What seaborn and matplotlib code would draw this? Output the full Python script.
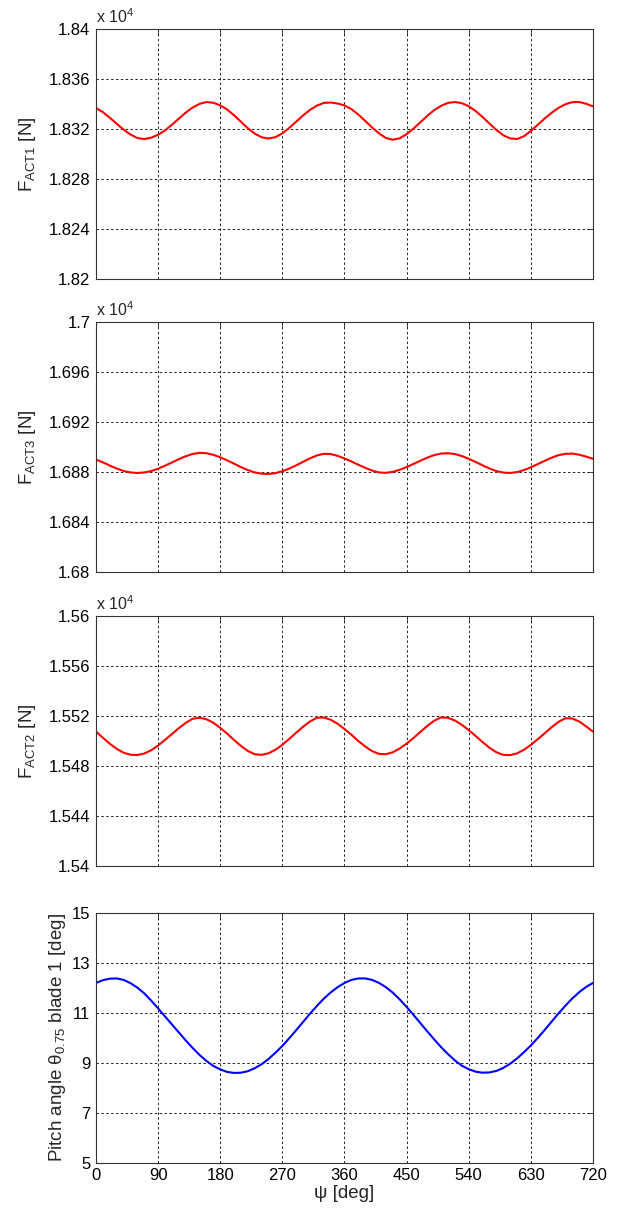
import matplotlib
matplotlib.use('Agg')
import matplotlib.pyplot as plt
import seaborn as sns
from matplotlib.ticker import FuncFormatter

# azimuth angle psi [deg], sampled every 10 deg
psi = list(range(0, 721, 10))

# actuator forces [N]
f_act1 = [18336.8, 18333.5, 18329.0, 18324.2, 18319.5, 18315.6, 18312.8, 18312.0, 18313.1, 18315.4,
          18318.9, 18323.4, 18328.3, 18333.1, 18337.2, 18340.1, 18341.6, 18341.0,
          18338.9, 18335.6, 18331.0, 18325.8, 18320.6, 18316.3, 18313.4, 18312.4, 18313.5, 18316.6,
          18320.9, 18325.9, 18330.9, 18335.3, 18338.7, 18340.9, 18341.2, 18340.4,
          18338.9, 18335.9, 18331.6, 18326.5, 18321.2, 18316.5, 18312.8, 18311.4, 18312.6, 18315.9,
          18320.4, 18325.5, 18330.6, 18335.1, 18338.6, 18340.9, 18341.6, 18340.7,
          18338.2, 18334.4, 18329.6, 18324.4, 18319.3, 18315.0, 18312.5, 18312.0, 18314.2, 18318.5,
          18323.4, 18328.4, 18333.0, 18336.9, 18339.8, 18341.5, 18341.6, 18340.2, 18338.1]

f_act3 = [16890.2, 16888.0, 16885.4, 16883.0, 16881.1, 16879.9, 16879.5, 16879.9, 16881.0, 16882.9,
          16885.3, 16887.9, 16890.5, 16892.9, 16894.7, 16895.6, 16895.3, 16894.0,
          16892.0, 16889.6, 16886.9, 16884.2, 16881.8, 16879.9, 16878.9, 16878.7, 16879.4, 16880.9,
          16883.0, 16885.6, 16888.4, 16891.2, 16893.5, 16894.8, 16894.6, 16893.2,
          16891.1, 16888.7, 16886.1, 16883.6, 16881.4, 16879.9, 16879.6, 16880.4, 16882.0, 16884.2,
          16886.7, 16889.3, 16891.8, 16893.8, 16895.0, 16895.3, 16894.6, 16893.0,
          16890.8, 16888.3, 16885.6, 16883.1, 16881.0, 16879.8, 16879.5, 16880.2, 16881.8, 16884.0,
          16886.6, 16889.2, 16891.7, 16893.7, 16894.8, 16895.0, 16894.1, 16892.6, 16890.8]

f_act2 = [15507.5, 15502.6, 15497.8, 15493.7, 15490.6, 15489.0, 15488.8, 15490.0, 15492.6, 15496.4,
          15500.9, 15505.6, 15510.3, 15514.5, 15517.8, 15518.6, 15517.4, 15514.6,
          15510.5, 15505.9, 15500.8, 15496.0, 15492.0, 15489.4, 15488.9, 15490.2, 15493.0, 15497.0,
          15501.7, 15506.6, 15511.4, 15515.6, 15518.6, 15518.8, 15517.0, 15513.8,
          15509.6, 15505.0, 15500.0, 15495.6, 15491.9, 15489.7, 15489.4, 15491.0, 15494.0, 15497.9,
          15502.4, 15507.3, 15512.1, 15516.2, 15518.9, 15518.5, 15516.4, 15512.9,
          15508.7, 15504.0, 15499.1, 15494.6, 15491.0, 15488.9, 15488.7, 15490.1, 15493.0, 15496.9,
          15501.4, 15506.2, 15511.0, 15515.3, 15518.2, 15518.0, 15515.6, 15511.7, 15507.5]

# pitch angle theta_0.75 of blade 1 [deg]
pitch = [12.19, 12.30, 12.36, 12.37, 12.31, 12.18, 12.00, 11.77, 11.48, 11.17,
         10.85, 10.53, 10.21, 9.89, 9.59, 9.31, 9.07, 8.87, 8.73, 8.63,
         8.59, 8.60, 8.66, 8.78, 8.94, 9.15, 9.40, 9.67, 9.98, 10.30,
         10.63, 10.96, 11.27, 11.56, 11.81, 12.02, 12.19,
         12.31, 12.37, 12.37, 12.31, 12.19, 12.02, 11.80, 11.53, 11.23, 10.91,
         10.58, 10.25, 9.93, 9.62, 9.34, 9.09, 8.88, 8.74, 8.64, 8.60,
         8.61, 8.67, 8.79, 8.96, 9.17, 9.42, 9.69, 9.99, 10.31, 10.64,
         10.97, 11.28, 11.57, 11.82, 12.03, 12.19]

x_ticks = list(range(0, 721, 90))
ylims = [(18200, 18400), (16800, 17000), (15400, 15600), (5, 15)]
yticks = [list(range(18200, 18401, 40)), list(range(16800, 17001, 40)),
          list(range(15400, 15601, 40)), [5, 7, 9, 11, 13, 15]]
ylabels = [r'F$_{ACT1}$ [N]', r'F$_{ACT3}$ [N]', r'F$_{ACT2}$ [N]',
           r'Pitch angle θ$_{0.75}$ blade 1 [deg]']
series = [f_act1, f_act3, f_act2, pitch]
colors = ['#ff0000', '#ff0000', '#ff0000', '#0000ff']

sns.set_style('white')
plt.rcParams['font.family'] = ['Liberation Sans', 'DejaVu Sans']
plt.rcParams['mathtext.default'] = 'regular'

fig = plt.figure(figsize=(6.21, 12.09), dpi=100)

# axes positions (figure fractions), MATLAB-like stacked subplots
left, width, height = 0.1546, 0.8003, 0.2068
bottoms = [0.7692, 0.5266, 0.2837, 0.0383]

for i in range(4):
    ax = fig.add_axes([left, bottoms[i], width, height])
    sns.lineplot(x=psi, y=series[i], ax=ax, color=colors[i], lw=1.5)
    ax.set_xlim(0, 720)
    ax.set_ylim(*ylims[i])
    ax.set_xticks(x_ticks)
    ax.set_yticks(yticks[i])
    ax.grid(True, color='#222222', linestyle=(0, (2.5, 2.5)), linewidth=0.7)
    ax.tick_params(direction='in', length=4, width=0.6, labelsize=12,
                   top=True, right=True, colors='#222222', labelcolor='black', pad=4)
    for sp in ax.spines.values():
        sp.set_color('#333333')
        sp.set_linewidth(0.8)
    if i < 3:
        ax.set_ylabel(ylabels[i], fontsize=13.5, labelpad=8)
        ax.yaxis.set_major_formatter(FuncFormatter(lambda v, p: f'{v / 1e4:g}'))
        ax.set_xticklabels([])
        ax.text(0.0, 1.012, r'x 10$^{4}$', transform=ax.transAxes, ha='left',
                va='bottom', fontsize=11.5)
    else:
        ax.set_ylabel(ylabels[i], fontsize=13.5, labelpad=3)
        ax.set_xlabel('ψ [deg]', fontsize=13.5, labelpad=1)

fig.savefig('out.png', dpi=100)
